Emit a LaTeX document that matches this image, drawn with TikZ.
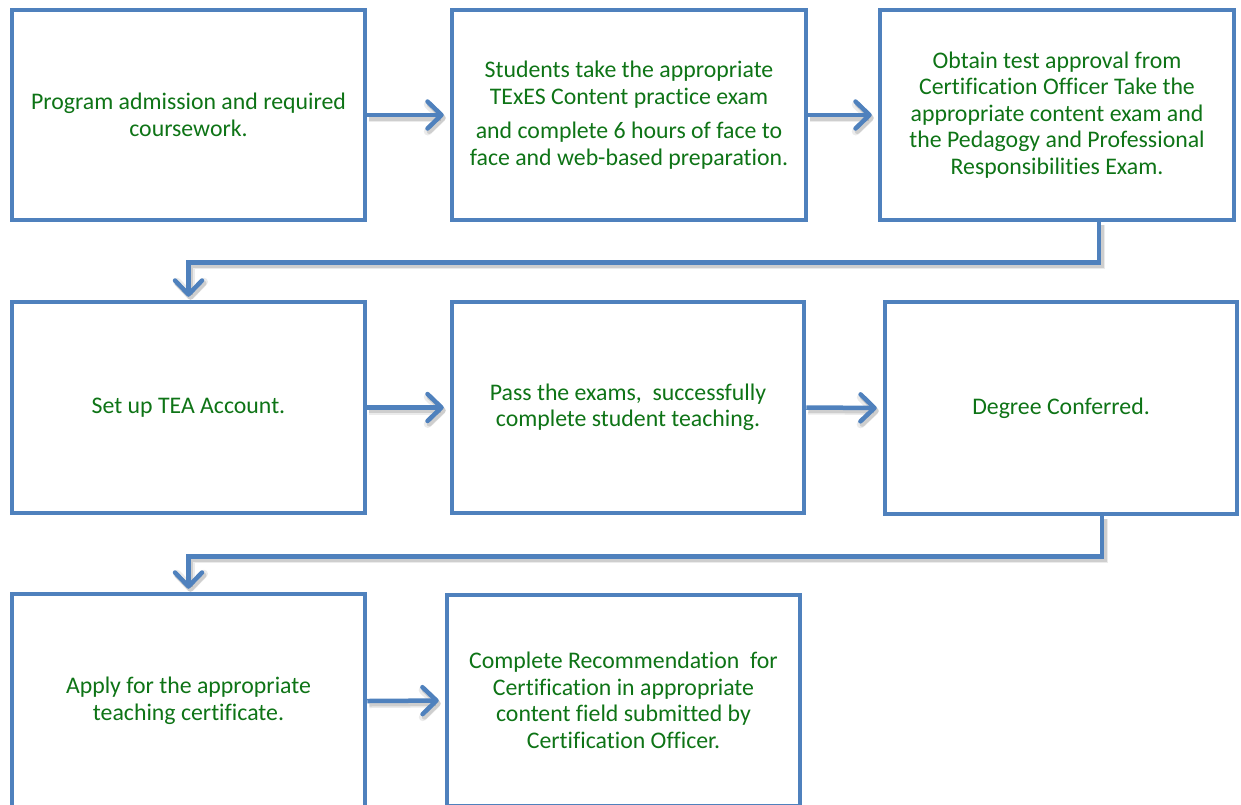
\documentclass[tikz,border=0pt]{standalone}
\usepackage{fontspec}
\setmainfont[Ligatures={NoCommon}]{Carlito}
\usetikzlibrary{arrows.meta}
\definecolor{frameblue}{RGB}{79,129,189}
\definecolor{textgreen}{RGB}{14,116,22}

\begin{document}
\begin{tikzpicture}[x=1pt,y=-1pt,
  stepbox/.style={draw=frameblue, line width=4.5pt, fill=white, rectangle,
    inner sep=0pt, align=center, text=textgreen,
    font=\fontsize{23.8}{26.5}\selectfont},
  conn/.style={frameblue, line width=4.5pt, line join=miter,
    -{Straight Barb[length=14pt,width=27pt,round]},
    preaction={draw=black, opacity=0.08, line width=8pt,
      transform canvas={xshift=2pt,yshift=-3pt}},
    preaction={draw=black, opacity=0.12, line width=5pt,
      transform canvas={xshift=2pt,yshift=-3pt}}},
  across/.style={conn, shorten >=6pt},
  elbow/.style={conn, shorten >=3pt}]

\useasboundingbox (0,0) rectangle (1241,804);
\clip (0,0) rectangle (1241,804);

% first row
\node[stepbox, minimum width=353pt, minimum height=210pt] (A) at (188.5,115)
  {Program admission and required\\coursework.};
\node[stepbox, minimum width=354pt, minimum height=210pt] (B) at (629,115)
  {Students take the appropriate\\TExES Content practice exam\\[8pt]and complete 6 hours of face to\\face and web-based preparation.};
\node[stepbox, minimum width=354pt, minimum height=210pt] (C) at (1057,115)
  {Obtain test approval from\\Certification Officer Take the\\appropriate content exam and\\the Pedagogy and Professional\\Responsibilities Exam.};

% second row
\node[stepbox, minimum width=353pt, minimum height=211pt] (D) at (188.5,407.5)
  {Set up TEA Account.};
\node[stepbox, minimum width=352pt, minimum height=211pt] (E) at (628,407.5)
  {Pass the exams,~ successfully\\complete student teaching.};
\node[stepbox, minimum width=352pt, minimum height=212pt] (F) at (1061,408)
  {Degree Conferred.};

% third row
\node[stepbox, minimum width=353pt, minimum height=214pt] (G) at (188.5,701)
  {Apply for the appropriate\\teaching certificate.};
\node[stepbox, minimum width=353pt, minimum height=211pt] (H) at (623.5,700.5)
  {Complete Recommendation~ for\\Certification in appropriate\\content field submitted by\\Certification Officer.};

% connectors
\draw[across] (A.east) -- (B.west);
\draw[across] (B.east) -- (C.west);
\draw[elbow] ([xshift=42pt]C.south) -- ++(0,40) -| (D.north);
\draw[across] (D.east) -- (E.west);
\draw[across] (E.east) -- (F.west);
\draw[elbow] ([xshift=41pt]F.south) -- ++(0,40) -| (G.north);
\draw[across] (G.east) -- (H.west);

\end{tikzpicture}
\end{document}
